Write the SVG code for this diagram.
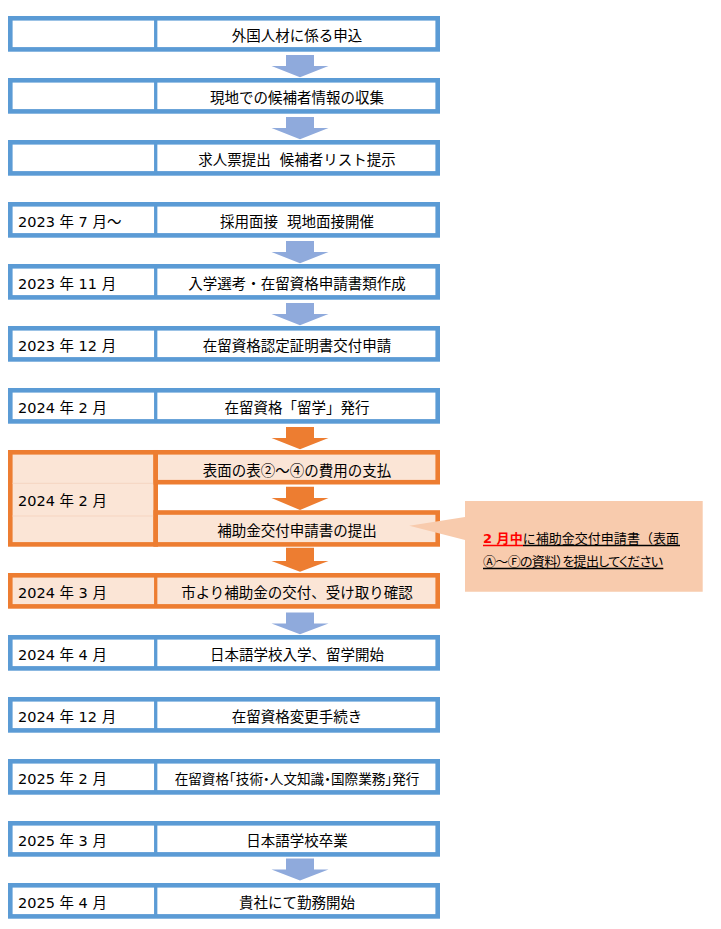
<svg xmlns="http://www.w3.org/2000/svg" width="721" height="929" viewBox="0 0 721 929">
<style>
.t{font-family:"DejaVu Sans","Noto Sans CJK JP",sans-serif;font-size:14.5px;fill:#000}
.c{text-anchor:middle}
.sm{font-size:13.6px;font-feature-settings:"halt"}
.j{font-family:"Noto Sans CJK JP",sans-serif}
.bl{fill:#fff;stroke:#5B9BD5;stroke-width:4.6}
.or{fill:#FBE5D6;stroke:#ED7D31;stroke-width:4.6}
.db{stroke:#5B9BD5;stroke-width:3.3}
.do{stroke:#ED7D31;stroke-width:3.3}
.ab{fill:#8FAADC}
.ao{fill:#ED7D31}
.ct{font-family:"DejaVu Sans","Noto Sans CJK JP",sans-serif;font-size:13px;fill:#000}
.red{fill:#FF0000;font-weight:bold}
</style>
<rect width="721" height="929" fill="#fff"/>

<g id="connectors">
<polygon class="ab" points="286,55 314,55 314,66 328.5,66 300,77.3 271.5,66 286,66"/>
<polygon class="ab" points="286,117 314,117 314,128 328.5,128 300,139.3 271.5,128 286,128"/>
<polygon class="ab" points="286,241 314,241 314,252 328.5,252 300,263.3 271.5,252 286,252"/>
<polygon class="ab" points="286,303 314,303 314,314 328.5,314 300,325.3 271.5,314 286,314"/>
<polygon class="ao" points="286,427 314,427 314,438 328.5,438 300,449.3 271.5,438 286,438"/>
<polygon class="ao" points="286,486.7 314,486.7 314,498 328.5,498 300,510 271.5,498 286,498"/>
<polygon class="ao" points="286,547.7 314,547.7 314,561 328.5,561 300,571.7 271.5,561 286,561"/>
<polygon class="ab" points="286,612.5 314,612.5 314,623.5 328.5,623.5 300,634.3 271.5,623.5 286,623.5"/>
<polygon class="ab" points="286,858.5 314,858.5 314,869.5 328.5,869.5 300,880.5 271.5,869.5 286,869.5"/>
</g>

<g id="row1"><rect class="bl" x="10.3" y="18.3" width="427.4" height="31.1"/><line class="db" x1="155.7" y1="18.3" x2="155.7" y2="49.4"/><text class="t c" x="297" y="40.5">外国人材に係る申込</text></g>
<g id="row2"><rect class="bl" x="10.3" y="80.3" width="427.4" height="31.1"/><line class="db" x1="155.7" y1="80.3" x2="155.7" y2="111.4"/><text class="t c" x="297" y="102.5">現地での候補者情報の収集</text></g>
<g id="row3"><rect class="bl" x="10.3" y="142.3" width="427.4" height="31.1"/><line class="db" x1="155.7" y1="142.3" x2="155.7" y2="173.4"/><text class="t c" x="297" y="164.5" xml:space="preserve" style="white-space:pre">求人票提出  候補者リスト提示</text></g>
<g id="row4"><rect class="bl" x="10.3" y="204.3" width="427.4" height="31.1"/><line class="db" x1="155.7" y1="204.3" x2="155.7" y2="235.4"/><text class="t" x="18" y="226.5">2023 年 7 月～</text><text class="t c" x="297" y="226.5" xml:space="preserve" style="white-space:pre">採用面接  現地面接開催</text></g>
<g id="row5"><rect class="bl" x="10.3" y="266.3" width="427.4" height="31.1"/><line class="db" x1="155.7" y1="266.3" x2="155.7" y2="297.4"/><text class="t" x="18" y="288.5">2023 年 11 月</text><text class="t c" x="297" y="288.5">入学選考・在留資格申請書類作成</text></g>
<g id="row6"><rect class="bl" x="10.3" y="328.3" width="427.4" height="31.1"/><line class="db" x1="155.7" y1="328.3" x2="155.7" y2="359.4"/><text class="t" x="18" y="350.5">2023 年 12 月</text><text class="t c" x="297" y="350.5">在留資格認定証明書交付申請</text></g>
<g id="row7"><rect class="bl" x="10.3" y="390.3" width="427.4" height="31.1"/><line class="db" x1="155.7" y1="390.3" x2="155.7" y2="421.4"/><text class="t" x="18" y="412.5">2024 年 2 月</text><text class="t c" x="297" y="412.5">在留資格「留学」発行</text></g>

<g id="row8">
<rect class="or" x="10.3" y="452.3" width="145.4" height="92.1"/>
<line x1="12.6" y1="483.3" x2="153.4" y2="483.3" stroke="#F6D5C1" stroke-width="1"/>
<line x1="12.6" y1="516" x2="153.4" y2="516" stroke="#F6D5C1" stroke-width="1"/>
<rect class="or" x="155.7" y="452.3" width="282" height="29.9"/>
<rect class="or" x="155.7" y="512.5" width="282" height="31.9"/>
<text class="t" x="18" y="505.5">2024 年 2 月</text>
<text class="t c j" x="297" y="476">表面の表②～④の費用の支払</text>
<text class="t c" x="297" y="536">補助金交付申請書の提出</text>
</g>

<g id="row9"><rect class="or" x="10.3" y="575.3" width="427.4" height="31.1"/><line class="do" x1="155.7" y1="575.3" x2="155.7" y2="606.4"/><text class="t" x="18" y="597.5">2024 年 3 月</text><text class="t c" x="297" y="597.5">市より補助金の交付、受け取り確認</text></g>
<g id="row10"><rect class="bl" x="10.3" y="637.3" width="427.4" height="31.1"/><line class="db" x1="155.7" y1="637.3" x2="155.7" y2="668.4"/><text class="t" x="18" y="659.5">2024 年 4 月</text><text class="t c" x="297" y="659.5">日本語学校入学、留学開始</text></g>
<g id="row11"><rect class="bl" x="10.3" y="699.3" width="427.4" height="31.1"/><line class="db" x1="155.7" y1="699.3" x2="155.7" y2="730.4"/><text class="t" x="18" y="721.5">2024 年 12 月</text><text class="t c" x="297" y="721.5">在留資格変更手続き</text></g>
<g id="row12"><rect class="bl" x="10.3" y="761.3" width="427.4" height="31.1"/><line class="db" x1="155.7" y1="761.3" x2="155.7" y2="792.4"/><text class="t" x="18" y="783.5">2025 年 2 月</text><text class="t c sm" x="297" y="783.5">在留資格「技術・人文知識・国際業務」発行</text></g>
<g id="row13"><rect class="bl" x="10.3" y="823.3" width="427.4" height="31.1"/><line class="db" x1="155.7" y1="823.3" x2="155.7" y2="854.4"/><text class="t" x="18" y="845.5">2025 年 3 月</text><text class="t c" x="297" y="845.5">日本語学校卒業</text></g>
<g id="row14"><rect class="bl" x="10.3" y="885.3" width="427.4" height="31.1"/><line class="db" x1="155.7" y1="885.3" x2="155.7" y2="916.4"/><text class="t" x="18" y="907.5">2025 年 4 月</text><text class="t c" x="297" y="907.5">貴社にて勤務開始</text></g>

<g id="callout">
<path d="M465,501 H702.7 V591.7 H465 V540 L409.3,525.7 L465,517 Z" fill="#F8CBAD"/>
<text class="ct" x="483" y="542.5" textLength="196" lengthAdjust="spacing"><tspan class="red">2 月中</tspan>に補助金交付申請書（表面</text>
<text class="ct j" x="483" y="565.5" textLength="180" lengthAdjust="spacing" style="font-feature-settings:'palt'">Ⓐ～Ⓕの資料）を提出してください</text>
<line x1="483" y1="545.5" x2="523" y2="545.5" stroke="#FF0000" stroke-width="1.3"/>
<line x1="523" y1="545.5" x2="680" y2="545.5" stroke="#000" stroke-width="1.3"/>
<line x1="483" y1="568.5" x2="663.3" y2="568.5" stroke="#000" stroke-width="1.3"/>
</g>
</svg>
